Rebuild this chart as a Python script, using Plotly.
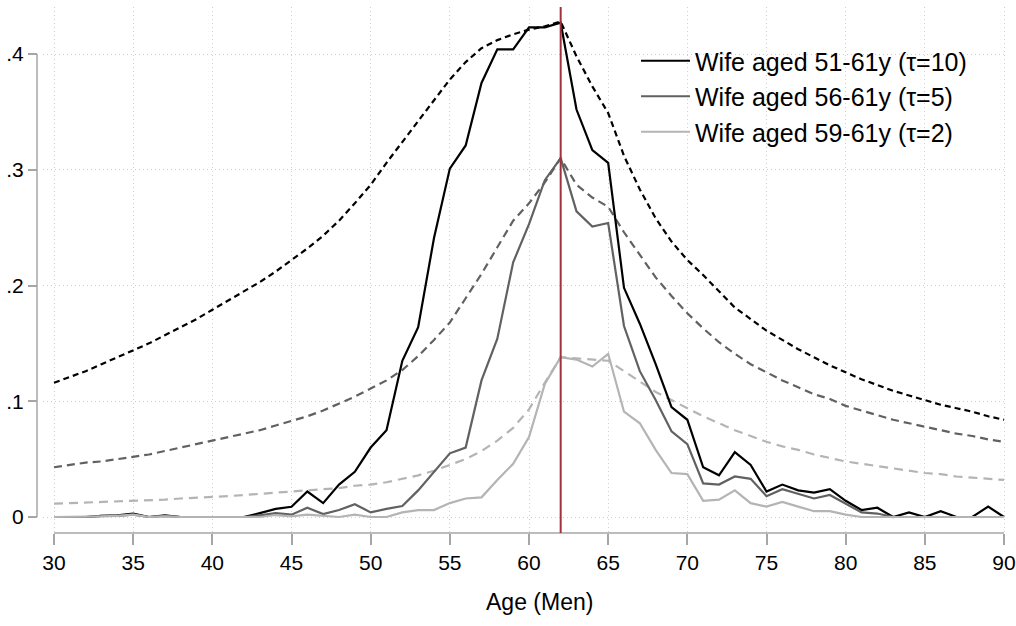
import plotly.graph_objects as go

# ---------------- data ----------------
ages = list(range(30, 91))

tau10_obs = [0, 0, 0, 0.001, 0.0015, 0.003, 0, 0.0014, 0, 0,
             0, 0, 0, 0.0034, 0.007, 0.0088, 0.022, 0.012, 0.028, 0.039,
             0.060, 0.075, 0.135, 0.164, 0.241, 0.301, 0.321, 0.375, 0.404, 0.404,
             0.423, 0.423, 0.427, 0.352, 0.317, 0.306, 0.198, 0.167, 0.132, 0.095,
             0.084, 0.043, 0.036, 0.056, 0.045, 0.022, 0.028, 0.023, 0.021, 0.024,
             0.014, 0.006, 0.008, 0, 0.004, 0, 0.005, 0, 0, 0.009,
             0]
tau5_obs = [0, 0, 0, 0.001, 0.001, 0.002, 0, 0.001, 0, 0,
            0, 0, 0, 0.0014, 0.0034, 0.002, 0.008, 0.0025, 0.006, 0.011,
            0.004, 0.007, 0.0095, 0.023, 0.039, 0.055, 0.060, 0.118, 0.154, 0.220,
            0.253, 0.291, 0.310, 0.264, 0.251, 0.254, 0.165, 0.126, 0.101, 0.074,
            0.063, 0.029, 0.028, 0.035, 0.033, 0.018, 0.024, 0.020, 0.016, 0.019,
            0.0115, 0.004, 0.003, 0, 0, 0, 0, 0, 0, 0,
            0]
tau2_obs = [0, 0, 0, 0.0005, 0.001, 0.002, 0, 0.0005, 0, 0,
            0, 0, 0, 0, 0.0017, 0.0005, 0.002, 0.001, 0, 0.002,
            0, 0, 0.004, 0.006, 0.006, 0.012, 0.016, 0.017, 0.032, 0.046,
            0.069, 0.115, 0.138, 0.136, 0.130, 0.141, 0.091, 0.081, 0.058, 0.038,
            0.037, 0.014, 0.015, 0.023, 0.012, 0.009, 0.013, 0.009, 0.005, 0.005,
            0.002, 0, 0, 0, 0, 0, 0, 0, 0, 0,
            0]

tau10_ref = [0.116, 0.121, 0.126, 0.132, 0.138, 0.144, 0.150, 0.157, 0.164, 0.171,
             0.179, 0.187, 0.195, 0.203, 0.212, 0.222, 0.232, 0.243, 0.256, 0.271,
             0.287, 0.306, 0.324, 0.342, 0.361, 0.378, 0.393, 0.405, 0.412, 0.417,
             0.421, 0.424, 0.428, 0.398, 0.372, 0.349, 0.312, 0.283, 0.258, 0.238,
             0.222, 0.209, 0.195, 0.181, 0.171, 0.161, 0.153, 0.145, 0.138, 0.131,
             0.125, 0.119, 0.114, 0.109, 0.105, 0.101, 0.097, 0.094, 0.091, 0.087,
             0.084]
tau5_ref = [0.043, 0.045, 0.047, 0.048, 0.050, 0.052, 0.054, 0.057, 0.060, 0.063,
            0.066, 0.069, 0.072, 0.075, 0.079, 0.083, 0.087, 0.092, 0.098, 0.104,
            0.111, 0.118, 0.127, 0.139, 0.153, 0.168, 0.189, 0.210, 0.233, 0.256,
            0.271, 0.289, 0.310, 0.287, 0.276, 0.268, 0.246, 0.226, 0.207, 0.191,
            0.176, 0.163, 0.151, 0.141, 0.132, 0.125, 0.118, 0.112, 0.106, 0.102,
            0.096, 0.092, 0.088, 0.084, 0.081, 0.078, 0.075, 0.072, 0.070, 0.067,
            0.065]
tau2_ref = [0.0115, 0.012, 0.0125, 0.013, 0.0134, 0.0138, 0.0145, 0.015, 0.016, 0.0165,
            0.0173, 0.018, 0.019, 0.020, 0.021, 0.0216, 0.023, 0.024, 0.025, 0.027,
            0.028, 0.030, 0.033, 0.036, 0.040, 0.045, 0.050, 0.057, 0.066, 0.077,
            0.093, 0.116, 0.138, 0.137, 0.136, 0.135, 0.126, 0.117, 0.108, 0.101,
            0.094, 0.087, 0.081, 0.075, 0.070, 0.065, 0.061, 0.058, 0.054, 0.051,
            0.048, 0.046, 0.044, 0.042, 0.040, 0.038, 0.037, 0.035, 0.034, 0.033,
            0.032]

series_names = ["Wife aged 51-61y (\u03c4=10)", "Wife aged 56-61y (\u03c4=5)",
                "Wife aged 59-61y (\u03c4=2)"]
x_ticks = list(range(30, 91, 5))
y_ticks = [0, 0.1, 0.2, 0.3, 0.4]
y_tick_labels = ["0", ".1", ".2", ".3", ".4"]
cutoff_age = 62

# ---------------- layout geometry (pixels) ----------------
W, H = 1016, 626
YAXIS_X = 37
PLOT_L, PLOT_R, PLOT_T, PLOT_B = 43, 1007, 7, 533
X30_PX, X90_PX = 54, 1004
Y0_PX, Y04_PX = 517, 54

ppx = (X90_PX - X30_PX) / 60.0
xmin = 30 - (X30_PX - PLOT_L) / ppx
xmax = 90 + (PLOT_R - X90_PX) / ppx
ppy = (Y0_PX - Y04_PX) / 0.4
ymin = -(PLOT_B - Y0_PX) / ppy
ymax = (Y0_PX - PLOT_T) / ppy

pw = PLOT_R - YAXIS_X
ph = PLOT_B - PLOT_T
d0 = (PLOT_L - YAXIS_X) / pw


def xp(v):
    return d0 + (v - xmin) / (xmax - xmin) * (1 - d0)


def yp(v):
    return (v - ymin) / (ymax - ymin)


FONT = "Liberation Sans, Arial, sans-serif"
colors = ["#000000", "#616161", "#b4b4b4"]
dashes = ["6px,4px", "8px,5px", "9px,6px"]

fig = go.Figure()
refs = [tau10_ref, tau5_ref, tau2_ref]
obs = [tau10_obs, tau5_obs, tau2_obs]
for i in range(3):
    fig.add_trace(go.Scatter(x=ages, y=refs[i], mode="lines",
                             line=dict(color=colors[i], width=2.2, dash=dashes[i]),
                             showlegend=False, hoverinfo="skip"))
for i in range(3):
    fig.add_trace(go.Scatter(x=ages, y=obs[i], mode="lines", name=series_names[i],
                             line=dict(color=colors[i], width=2.2)))

axis_gray = "#a6a6a6"
grid_gray = "#cfcfcf"

fig.update_layout(
    width=W, height=H,
    margin=dict(l=YAXIS_X, r=W - PLOT_R, t=PLOT_T, b=H - PLOT_B, pad=0,
                autoexpand=False),
    paper_bgcolor="white", plot_bgcolor="white",
    font=dict(family=FONT, color="black", size=21),
    xaxis=dict(domain=[d0, 1], range=[xmin, xmax], tickvals=x_ticks,
               automargin=False,
               showgrid=True, gridcolor=grid_gray, griddash="1px,3px", gridwidth=1,
               zeroline=False, showline=False, ticks="outside", ticklen=11,
               tickcolor=axis_gray, tickwidth=1.5,
               tickfont=dict(size=21, family=FONT, color="black")),
    yaxis=dict(anchor="free", position=0, range=[ymin, ymax], tickvals=y_ticks,
               ticktext=y_tick_labels, automargin=False,
               showgrid=True, gridcolor=grid_gray, griddash="1px,3px", gridwidth=1,
               zeroline=False, showline=False, ticks="outside", ticklen=9,
               tickcolor=axis_gray, tickwidth=1.5,
               tickfont=dict(size=21, family=FONT, color="black")),
    legend=dict(x=(636 - YAXIS_X) / pw, y=(PLOT_B - 38) / ph, xanchor="left",
                yanchor="top", bgcolor="rgba(0,0,0,0)", borderwidth=0,
                font=dict(size=25, family=FONT, color="black"),
                itemwidth=49, tracegroupgap=0),
    showlegend=True,
)

# axis lines spanning only the tick range (Stata style)
fig.add_shape(type="line", xref="paper", yref="paper",
              x0=0, x1=0, y0=yp(0), y1=yp(0.4),
              line=dict(color=axis_gray, width=1.5))
fig.add_shape(type="line", xref="paper", yref="paper",
              x0=xp(30), x1=xp(90), y0=0, y1=0,
              line=dict(color=axis_gray, width=1.5))
# vertical reference line at the cutoff age
fig.add_shape(type="line", xref="x", yref="paper",
              x0=cutoff_age, x1=cutoff_age, y0=0, y1=1,
              line=dict(color="#a3303d", width=2))

fig.add_annotation(text="Age (Men)", xref="paper", yref="paper",
                   x=(539 - YAXIS_X) / pw, y=(PLOT_B - 602) / ph,
                   xanchor="center", yanchor="middle", showarrow=False,
                   font=dict(size=23, family=FONT, color="black"))

fig.write_html("out.html",
               config={"displayModeBar": False},
               post_script="document.body.style.margin='0px';"
                           "document.body.style.padding='0px';"
                           "document.body.style.overflow='hidden';")
